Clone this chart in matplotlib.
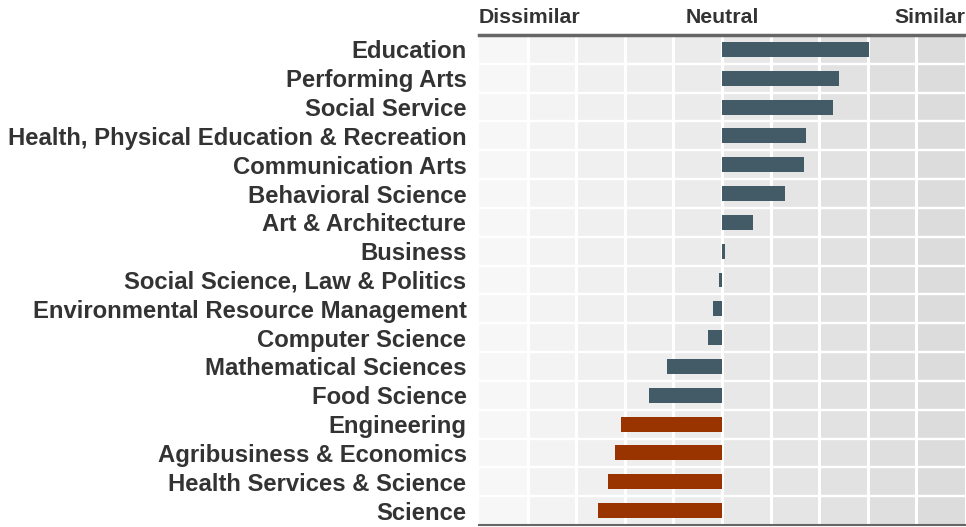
import matplotlib.pyplot as plt
from matplotlib.patches import Rectangle

plt.rcParams['font.family'] = ['Liberation Sans', 'DejaVu Sans']

# majors, top to bottom
majors = ["Education", "Performing Arts", "Social Service",
          "Health, Physical Education & Recreation", "Communication Arts",
          "Behavioral Science", "Art & Architecture", "Business",
          "Social Science, Law & Politics", "Environmental Resource Management",
          "Computer Science", "Mathematical Sciences", "Food Science",
          "Engineering", "Agribusiness & Economics",
          "Health Services & Science", "Science"]
# similarity score, -5 (dissimilar) .. 5 (similar)
scores = [3.02, 2.41, 2.28, 1.73, 1.69, 1.30, 0.64, 0.06, -0.07, -0.19,
          -0.29, -1.13, -1.50, -2.08, -2.20, -2.35, -2.55]
highlight = ["Engineering", "Agribusiness & Economics",
             "Health Services & Science", "Science"]

blue = "#435b67"
rust = "#993300"
col_shades = ["#f7f7f7", "#f3f3f3", "#f0f0f0", "#eeeeee", "#ebebeb",
              "#e8e8e8", "#e5e5e5", "#e2e2e2", "#dfdfdf", "#dcdcdc"]

fig = plt.figure(figsize=(9.66, 5.27), dpi=100)
ax = fig.add_axes([479 / 966, 1 - 525 / 527, 486 / 966, 490 / 527])

n = len(majors)
ax.set_xlim(-5, 5)
ax.set_ylim(n - 0.5, -0.5)

# shaded background cells
for i, c in enumerate(col_shades):
    ax.add_patch(Rectangle((-5 + i, -0.5), 1, n, facecolor=c, edgecolor='none', zorder=0))
for x in range(-4, 5):
    ax.axvline(x, color='white', lw=2.2, zorder=1)
for y in range(n - 1):
    ax.axhline(y + 0.5, color='white', lw=1.7, zorder=1)

colors = [rust if m in highlight else blue for m in majors]
ax.barh(range(n), scores, height=0.52, color=colors, zorder=2)

ax.set_yticks(range(n))
ax.set_yticklabels(majors, fontsize=17.2, fontweight='bold', color='#333333')
ax.tick_params(axis='y', length=0, pad=9)
ax.set_xticks([])

for s in ['left', 'right']:
    ax.spines[s].set_visible(False)
ax.spines['top'].set_color('#666666')
ax.spines['top'].set_linewidth(2.5)
ax.spines['bottom'].set_color('#666666')
ax.spines['bottom'].set_linewidth(1.5)

for x, txt, ha in [(0, "Dissimilar", 'left'), (0.5, "Neutral", 'center'), (1, "Similar", 'right')]:
    ax.text(x, 1.017, txt, transform=ax.transAxes, ha=ha, va='bottom',
            fontsize=15.3, fontweight='bold', color='#333333')

fig.savefig("out.png", dpi=100)
